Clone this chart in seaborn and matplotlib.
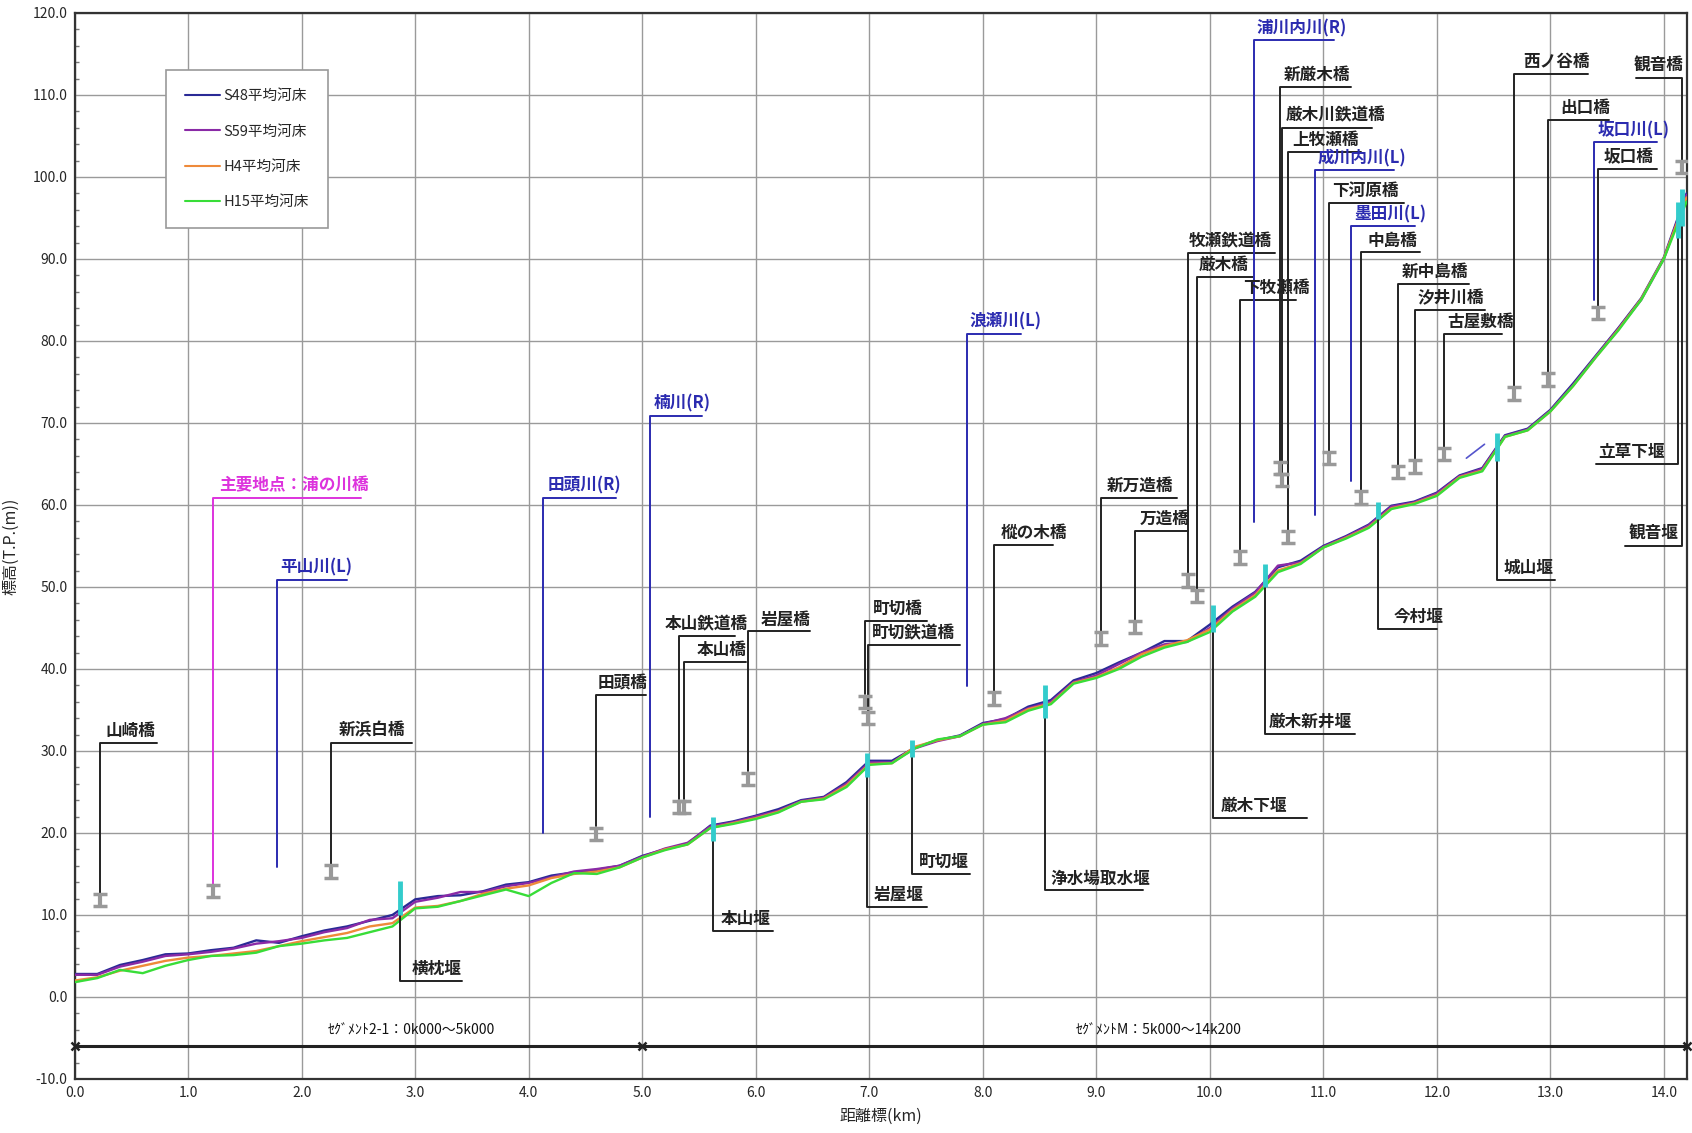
import matplotlib
matplotlib.use("Agg")
import matplotlib.pyplot as plt
import numpy as np
import pandas as pd
import seaborn as sns

# ---------------- profile data (distance km, mean river-bed elevation T.P. m) -------------
distance_km = [0.0, 0.2, 0.4, 0.6, 0.8, 1.0, 1.2, 1.4, 1.6, 1.8, 2.0, 2.2, 2.4, 2.6, 2.8,
               3.0, 3.2, 3.4, 3.6, 3.8, 4.0, 4.2, 4.4, 4.6, 4.8, 5.0,
               5.2, 5.4, 5.6, 5.8, 6.0, 6.2, 6.4, 6.6, 6.8, 7.0, 7.2, 7.4, 7.6, 7.8, 8.0,
               8.2, 8.4, 8.6, 8.8, 9.0, 9.2, 9.4, 9.6, 9.8, 10.0,
               10.2, 10.4, 10.6, 10.8, 11.0, 11.2, 11.4, 11.6, 11.8, 12.0, 12.2, 12.4,
               12.6, 12.8, 13.0, 13.2, 13.4, 13.6, 13.8, 14.0, 14.2]

bed_S48 = [2.8, 2.8, 3.9, 4.5, 5.2, 5.3, 5.7, 6.0, 6.9, 6.6, 7.4, 8.1, 8.6, 9.3, 10.0,
           11.9, 12.3, 12.4, 12.9, 13.7, 14.0, 14.8, 15.2, 15.5, 16.0, 17.2,
           18.0, 18.7, 20.9, 21.4, 22.1, 22.9, 24.0, 24.4, 26.2, 28.8, 28.8, 30.4, 31.3, 31.9, 33.4,
           33.9, 35.4, 36.2, 38.6, 39.5, 40.8, 42.0, 43.4, 43.4, 45.4,
           47.6, 49.4, 52.4, 53.2, 55.0, 56.2, 57.6, 59.9, 60.4, 61.5, 63.6, 64.5,
           68.5, 69.3, 71.6, 74.8, 78.2, 81.6, 85.2, 90.2, 98.0]

bed_S59 = [2.7, 2.7, 3.7, 4.3, 5.0, 5.2, 5.5, 5.9, 6.5, 6.8, 7.2, 7.9, 8.4, 9.4, 9.6,
           11.6, 12.1, 12.8, 12.8, 13.5, 13.9, 14.6, 15.3, 15.6, 16.0, 17.1,
           18.1, 18.8, 20.8, 21.3, 22.0, 22.7, 23.9, 24.3, 26.0, 28.6, 28.6, 30.3, 31.2, 31.8, 33.3,
           34.0, 35.2, 36.0, 38.4, 39.2, 40.6, 42.0, 43.0, 43.3, 45.0,
           47.4, 49.3, 52.6, 53.0, 54.9, 56.1, 57.5, 59.8, 60.3, 61.4, 63.5, 64.4,
           68.4, 69.2, 71.5, 74.6, 78.1, 81.5, 85.0, 90.0, 97.8]

bed_H4 = [2.0, 2.4, 3.2, 3.8, 4.4, 4.8, 5.0, 5.3, 5.6, 6.2, 6.8, 7.3, 7.8, 8.6, 9.0,
          10.9, 11.1, 11.7, 12.6, 13.2, 13.6, 14.5, 15.0, 15.3, 15.8, 17.0,
          18.0, 18.6, 20.6, 21.2, 21.8, 22.6, 23.8, 24.2, 25.8, 28.4, 28.5, 30.5, 31.3, 31.8, 33.2,
          33.7, 35.1, 35.8, 38.3, 39.0, 40.2, 41.8, 42.8, 43.5, 44.8,
          47.2, 49.0, 52.0, 52.9, 54.8, 56.0, 57.3, 59.6, 60.2, 61.2, 63.4, 64.2,
          68.3, 69.1, 71.4, 74.5, 78.0, 81.4, 85.1, 90.1, 97.5]

bed_H15 = [1.8, 2.3, 3.3, 2.9, 3.8, 4.5, 5.0, 5.1, 5.4, 6.2, 6.5, 6.9, 7.2, 7.9, 8.6,
           10.8, 11.0, 11.7, 12.4, 13.1, 12.3, 13.9, 15.1, 15.0, 15.8, 17.0,
           17.9, 18.6, 20.6, 21.1, 21.7, 22.5, 23.8, 24.1, 25.6, 28.3, 28.5, 30.3, 31.4, 31.8, 33.2,
           33.5, 34.9, 35.7, 38.2, 38.9, 40.0, 41.5, 42.6, 43.3, 44.5,
           47.0, 48.8, 51.8, 52.8, 54.8, 55.9, 57.2, 59.5, 60.1, 61.1, 63.3, 64.1,
           68.3, 69.1, 71.4, 74.5, 78.0, 81.3, 85.0, 90.0, 97.0]

series_labels = ["S48平均河床", "S59平均河床", "H4平均河床", "H15平均河床"]
series_colors = ["#2a2a96", "#8a2aa6", "#ee8a3a", "#38dd38"]

# ---------------- bridges ----------------
bridge_names = ["山崎橋", "新浜白橋", "田頭橋", "本山鉄道橋", "本山橋", "岩屋橋", "町切橋", "町切鉄道橋",
                "樅の木橋", "新万造橋", "万造橋", "牧瀬鉄道橋", "厳木橋", "下牧瀬橋", "新厳木橋",
                "厳木川鉄道橋", "上牧瀬橋", "下河原橋", "中島橋", "新中島橋", "汐井川橋", "古屋敷橋",
                "西ノ谷橋", "出口橋", "坂口橋", "観音橋"]
bridge_x = [0.22, 2.26, 4.59, 5.32, 5.37, 5.93, 6.96, 6.99, 8.10, 9.04, 9.34, 9.81, 9.89, 10.27,
            10.62, 10.64, 10.69, 11.05, 11.33, 11.66, 11.81, 12.06, 12.68, 12.98, 13.42, 14.16]
bridge_deck = [11.8, 15.3, 19.9, 23.2, 23.2, 26.6, 36.0, 34.0, 36.4, 43.7, 45.1, 50.8, 48.9, 53.6,
               64.5, 63.0, 56.1, 65.7, 60.9, 64.0, 64.7, 66.2, 73.6, 75.3, 83.4, 101.2]
bridge_label_y = [31.0, 31.0, 36.8, 44.0, 40.9, 44.6, 45.9, 42.9, 55.1, 60.9, 56.8, 90.7, 87.8, 85.0,
                  111.0, 106.0, 103.0, 96.8, 90.8, 87.0, 83.8, 80.9, 112.6, 107.0, 101.0, 112.1]
bridge_line_end = [0.73, 2.97, 5.03, 5.82, 5.91, 6.48, 7.51, 7.80, 8.62, 9.71, 9.81, 10.57, 10.38, 10.76,
                   11.24, 11.43, 11.33, 11.71, 11.85, 12.28, 12.42, 12.57, 13.33, 13.52, 13.94, 13.75]
bridge_text_x = [0.27, 2.33, 4.61, 5.20, 5.48, 6.04, 7.03, 7.02, 8.16, 9.09, 9.38, 9.81, 9.90, 10.29,
                 10.65, 10.67, 10.73, 11.08, 11.39, 11.69, 11.83, 12.09, 12.76, 13.09, 13.47, 13.73]

# ---------------- main point ----------------
main_name = "主要地点：浦の川橋"
main_x = 1.22
main_deck = 12.9
main_label_y = 60.9
main_line_end = 2.52
main_text_x = 1.27

# ---------------- tributaries ----------------
trib_names = ["平山川(L)", "田頭川(R)", "楠川(R)", "浪瀬川(L)", "浦川内川(R)", "成川内川(L)", "墨田川(L)", "坂口川(L)"]
trib_x = [1.78, 4.13, 5.07, 7.86, 10.39, 10.93, 11.24, 13.38]
trib_bottom = [15.9, 20.0, 22.0, 37.9, 57.9, 58.8, 62.9, 85.0]
trib_label_y = [50.9, 60.9, 70.9, 80.9, 116.7, 100.8, 94.0, 104.2]
trib_line_end = [2.40, 4.77, 5.53, 8.34, 11.09, 11.62, 11.81, 13.94]
trib_text_x = [1.81, 4.17, 5.10, 7.88, 10.41, 10.95, 11.27, 13.42]
minor_trib_x = [12.26, 12.42]
minor_trib_y = [65.7, 67.4]

# ---------------- weirs ----------------
weir_names = ["横枕堰", "本山堰", "岩屋堰", "町切堰", "浄水場取水堰", "厳木下堰", "厳木新井堰",
              "今村堰", "城山堰", "立草下堰", "観音堰"]
weir_x = [2.87, 5.62, 6.98, 7.38, 8.55, 10.03, 10.49, 11.48, 12.53, 14.12, 14.16]
weir_bar_lo = [10.0, 19.0, 26.8, 29.3, 34.0, 44.5, 50.0, 58.3, 65.3, 92.5, 94.0]
weir_bar_hi = [14.2, 22.0, 29.7, 31.3, 38.0, 47.8, 52.8, 60.3, 68.8, 97.0, 98.5]
weir_label_y = [2.0, 8.0, 11.0, 15.0, 13.0, 21.8, 32.1, 44.9, 50.9, 65.0, 55.0]
weir_line_end = [3.41, 6.15, 7.51, 7.89, 9.41, 10.86, 11.28, 12.00, 13.04, 13.40, 13.66]
weir_text_x = [2.97, 5.69, 7.04, 7.44, 8.60, 10.10, 10.52, 11.62, 12.59, 13.42, 13.69]

# ---------------- segments ----------------
segment_marks = [0.0, 5.0, 14.2]
segment_level = -6.0
segment_labels = ["ｾｸﾞﾒﾝﾄ2-1：0k000～5k000", "ｾｸﾞﾒﾝﾄM：5k000～14k200"]
segment_label_x = [2.97, 9.55]

x_ticks = [0, 1, 2, 3, 4, 5, 6, 7, 8, 9, 10, 11, 12, 13, 14]
y_ticks = [-10, 0, 10, 20, 30, 40, 50, 60, 70, 80, 90, 100, 110, 120]

# ======================================================================
sns.set_theme(style="white")
plt.rcParams['font.family'] = ['Noto Sans CJK JP', 'DejaVu Sans']

fig = plt.figure(figsize=(16.92, 11.33), dpi=100)
ax = fig.add_axes([0.0441, 0.0477, 0.9527, 0.9409])

frames = []
for lab, vals in zip(series_labels, [bed_S48, bed_S59, bed_H4, bed_H15]):
    frames.append(pd.DataFrame({"距離": distance_km, "標高": vals, "系列": lab}))
df = pd.concat(frames, ignore_index=True)

sns.lineplot(data=df, x="距離", y="標高", hue="系列", hue_order=series_labels,
             palette=dict(zip(series_labels, series_colors)), estimator=None, sort=False,
             linewidth=1.7, ax=ax, zorder=3)

ax.set_xlim(0, 14.2)
ax.set_ylim(-10, 120)
ax.set_xticks(x_ticks)
ax.set_xticklabels([f"{t:.1f}" for t in x_ticks], fontsize=10)
ax.set_yticks(y_ticks)
ax.set_yticklabels([f"{t:.1f}" for t in y_ticks], fontsize=10)
ax.set_yticks(np.arange(-10, 121, 2), minor=True)
ax.tick_params(axis='y', which='minor', direction='in', length=3, color='#777777', left=True)
ax.tick_params(axis='both', which='major', direction='in', length=0, pad=5)
ax.grid(True, which='major', color='#9a9a9a', linewidth=1.0, zorder=0)
ax.set_axisbelow(True)
for sp in ax.spines.values():
    sp.set_color('#333333')
    sp.set_linewidth(1.6)

ax.set_xlabel("距離標(km)", fontsize=11.5)
ax.set_ylabel("標高(T.P.(m))", fontsize=11.5)
ax.xaxis.set_label_coords(0.5, -0.027)
ax.yaxis.set_label_coords(-0.034, 0.5)

lead_kw = dict(color='#222222', linewidth=1.4, zorder=4)
txt_kw = dict(fontsize=12, ha='left', va='bottom', zorder=6, fontweight='bold')

# weirs
for name, x, lo, hi, ly, xe, tx in zip(weir_names, weir_x, weir_bar_lo, weir_bar_hi,
                                        weir_label_y, weir_line_end, weir_text_x):
    ax.plot([x, x], [lo, hi], color='#33cccc', linewidth=3.5, solid_capstyle='butt', zorder=5)
    ax.plot([x, x, xe], [lo, ly, ly], **lead_kw)
    ax.text(tx, ly + 0.35, name, color='#222222', **txt_kw)

# bridges
for name, x, d, ly, xe, tx in zip(bridge_names, bridge_x, bridge_deck, bridge_label_y,
                                   bridge_line_end, bridge_text_x):
    ax.plot([x, x, xe], [d + 0.9, ly, ly], **lead_kw)
    ax.text(tx, ly + 0.35, name, color='#222222', **txt_kw)
ax.errorbar(bridge_x, bridge_deck, yerr=0.75, fmt='none', ecolor='#999999',
            elinewidth=3, capsize=5, capthick=2.5, zorder=5)

# main point
ax.plot([main_x, main_x, main_line_end], [main_deck + 0.9, main_label_y, main_label_y],
        color='#dd33dd', linewidth=1.4, zorder=4)
ax.errorbar([main_x], [main_deck], yerr=0.75, fmt='none', ecolor='#999999',
            elinewidth=3, capsize=5, capthick=2.5, zorder=5)
ax.text(main_text_x, main_label_y + 0.35, main_name, color='#dd33dd', **txt_kw)

# tributaries
for name, x, b, ly, xe, tx in zip(trib_names, trib_x, trib_bottom, trib_label_y,
                                   trib_line_end, trib_text_x):
    ax.plot([x, x, xe], [b, ly, ly], color='#2b2bb0', linewidth=1.4, zorder=4)
    ax.text(tx, ly + 0.35, name, color='#2b2bb0', **txt_kw)
ax.plot(minor_trib_x, minor_trib_y, color='#5555cc', linewidth=1.2, zorder=4)

# segments
ax.plot([segment_marks[0], segment_marks[-1]], [segment_level, segment_level],
        color='#222222', linewidth=2.2, zorder=4)
ax.plot(segment_marks, [segment_level] * len(segment_marks), linestyle='none',
        marker='x', markersize=6, markeredgewidth=1.8, color='#222222', zorder=5, clip_on=False)
for lab, x in zip(segment_labels, segment_label_x):
    ax.text(x, segment_level + 1.0, lab, fontsize=10, ha='center', va='bottom', color='#111111',
            zorder=6)

# legend
handles, labels = ax.get_legend_handles_labels()
leg = ax.legend(handles, labels, loc='upper left', bbox_to_anchor=(0.057, 0.946),
                fontsize=10.5, frameon=True, fancybox=False, edgecolor='#999999',
                framealpha=1, labelspacing=1.45, borderpad=1.3, handlelength=2.4,
                handletextpad=0.2, borderaxespad=0)
leg.get_frame().set_linewidth(1.2)
for h in leg.get_lines():
    h.set_linewidth(1.5)

fig.savefig("out.png", dpi=100)
